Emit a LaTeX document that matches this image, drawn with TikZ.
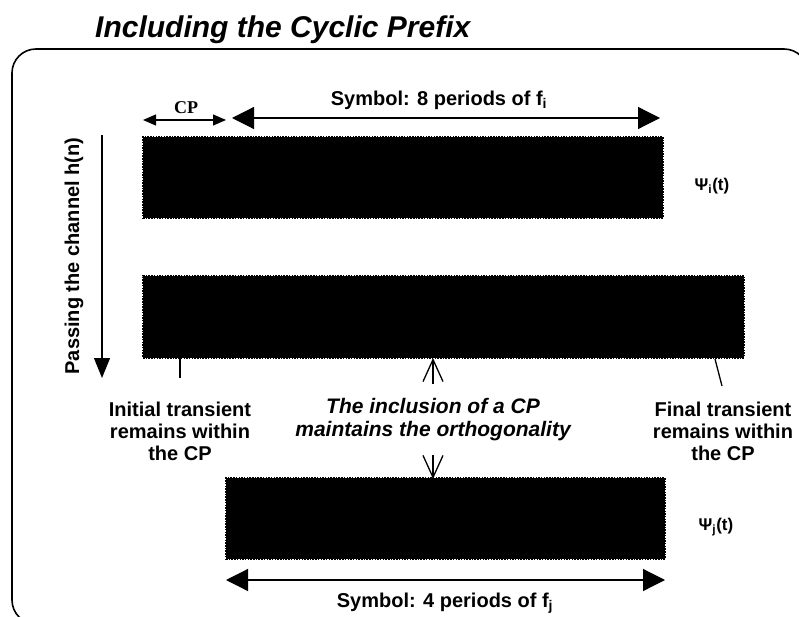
\documentclass[tikz,border=0pt]{standalone}
\usepackage{fontspec}
\setmainfont{Liberation Sans}
\newfontfamily\serifcp{Liberation Serif}
\usetikzlibrary{arrows.meta}
\begin{document}
\begin{tikzpicture}[x=1pt,y=-1pt,
  sigbox/.style={fill=black,draw=black,line width=2pt,dash pattern=on 1.5pt off 1.2pt,
    inner sep=0pt,outer sep=0pt},
  lbl/.style={font=\fontsize{20}{22}\selectfont\bfseries,inner sep=0pt,align=center},
  keylbl/.style={font=\fontsize{21}{23}\selectfont\bfseries\itshape,inner sep=0pt,align=center},
  psilbl/.style={font=\fontsize{17}{19}\selectfont\bfseries,inner sep=0pt},
  bigarrow/.style={line width=1.2pt,{Triangle[length=22pt,width=22pt]}-{Triangle[length=22pt,width=22pt]}},
  cparrow/.style={line width=1.2pt,{Triangle[length=13pt,width=11pt]}-{Triangle[length=13pt,width=11pt]}},
  barbarrow/.style={line width=1.3pt,-{Straight Barb[length=22pt,width=20pt]}},
  tick/.style={line width=1.3pt}]
\useasboundingbox (0,0) rectangle (799,617);
\begin{scope}
\clip (0,0) rectangle (799,617);
% outer frame
\draw[line width=1.6pt,rounded corners=24pt] (12,49) rectangle (808,624);
\end{scope}

% title
\node[font=\fontsize{30}{32}\selectfont\bfseries\itshape,anchor=west,inner sep=0pt] (title) at (95,30) {Including the Cyclic Prefix};

% three symbol waveforms
\node[sigbox,minimum width=520pt,minimum height=81pt] (b1) at (403,177.5) {};
\node[sigbox,minimum width=601pt,minimum height=82pt] (b2) at (443.5,316.5) {};
\node[sigbox,minimum width=439pt,minimum height=81pt] (b3) at (445.5,518.5) {};

% CP span
\coordinate (cpl) at (143,120);
\coordinate (cpr) at (226,120);
\draw[cparrow] (cpl) -- (cpr);
\node[font=\fontsize{18}{20}\selectfont\bfseries\serifcp,inner sep=0pt] (cp) at (186,108) {CP};

% symbol span, 8 periods
\coordinate (s1l) at (232,118);
\coordinate (s1r) at (660,118);
\draw[bigarrow] (s1l) -- (s1r);
\node[lbl] (s1) at (439,100) {Symbol: 8 periods of f\textsubscript{i}};

\node[psilbl] (psii) at (712,186) {Ψ\textsubscript{i}(t)};
\node[psilbl] (psij) at (716,527) {Ψ\textsubscript{j}(t)};

% channel
\coordinate (ch1) at (102,135);
\coordinate (ch2) at (102,378);
\draw[line width=1.2pt,-{Triangle[length=20pt,width=16pt]}] (ch1) -- (ch2);
\node[lbl,rotate=90] (chan) at (74,256) {Passing the channel h(n)};

% transients
\node[lbl] (init) at (180,431) {Initial transient\\remains within\\the CP};
\node[lbl] (fin) at (723,431) {Final transient\\remains within\\the CP};
\coordinate (t1a) at (180,358);
\coordinate (t1b) at (180,378);
\draw[tick] (t1a) -- (t1b);
\coordinate (t2a) at (715,359);
\coordinate (t2b) at (722,386);
\draw[tick] (t2a) -- (t2b);

% orthogonality note
\node[keylbl] (key) at (433,420) {The inclusion of a CP\\maintains the orthogonality};
\coordinate (up0) at (433,384);
\coordinate (up1) at (433,358);
\draw[barbarrow] (up0) -- (up1);
\coordinate (dn0) at (433,455);
\coordinate (dn1) at (433,479);
\draw[barbarrow] (dn0) -- (dn1);

% symbol span, 4 periods
\coordinate (s2l) at (226,580);
\coordinate (s2r) at (665,580);
\draw[bigarrow] (s2l) -- (s2r);
\node[lbl] (s2) at (445,603) {Symbol: 4 periods of f\textsubscript{j}};
\end{tikzpicture}
\end{document}
